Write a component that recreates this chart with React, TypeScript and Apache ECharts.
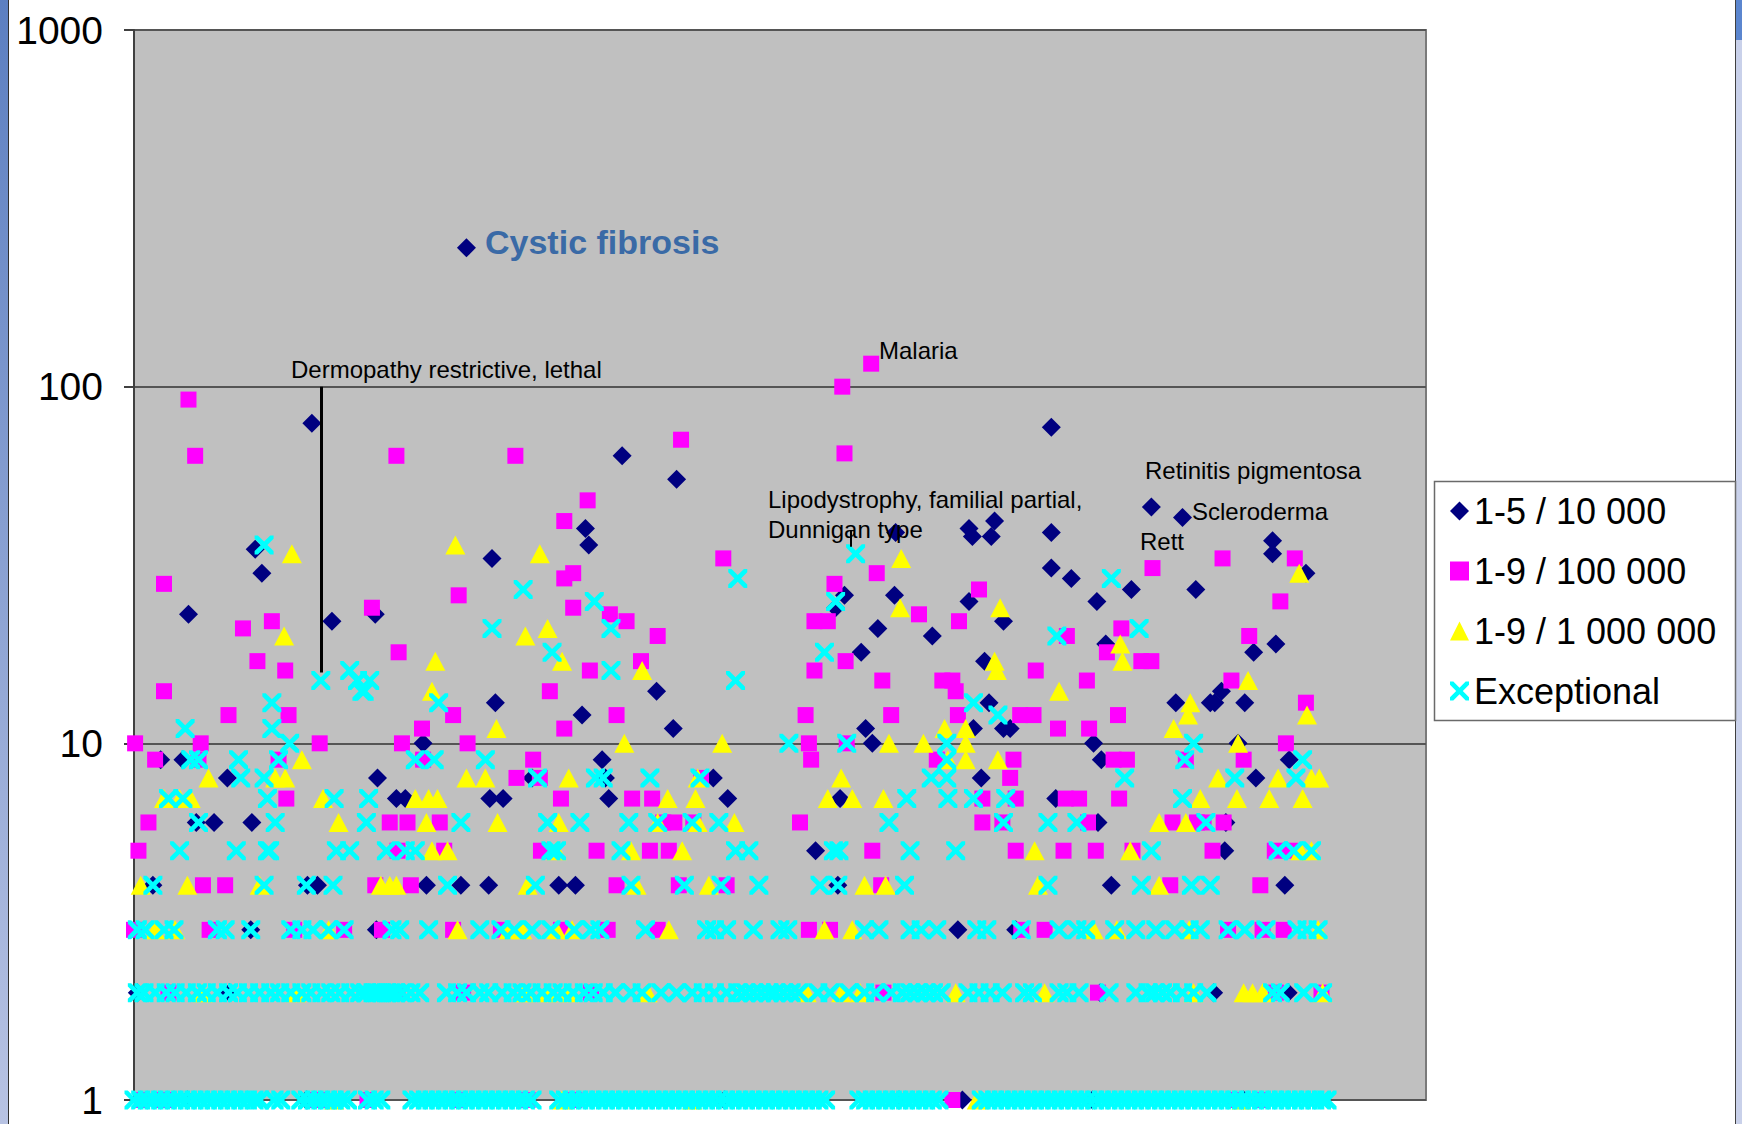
import React, { useEffect, useRef } from "react";
import * as echarts from "echarts";

// Horizontal axis: rank of the disease (no labels). Vertical axis: value on a log scale.
const X_MAX = 1162;
const Y_MIN = 1;
const Y_MAX = 1000;

const SERIES_NAMES = ["1-5 / 10 000", "1-9 / 100 000", "1-9 / 1 000 000", "Exceptional"];

// ---- 1-5 / 10 000 (navy diamonds) ----
const diamondUpper: [number, number][] = [
  [299, 245], [160, 79], [49, 23], [109, 35], [115, 30], [178, 22], [217, 23], [322, 33], [325, 13],
  [406, 40], [409, 36], [403, 12], [439, 64], [488, 55], [470, 14], [485, 11], [260, 10], [769, 13],
  [937, 13], [658, 11], [755, 11], [782, 11], [788, 11], [664, 10], [863, 10], [993, 10], [968, 13],
  [972, 13], [999, 13], [978, 14], [631, 24], [639, 26], [654, 18], [669, 21], [684, 26], [685, 39],
  [718, 20], [751, 40], [754, 38], [774, 42], [771, 38], [751, 25], [765, 17], [782, 22], [825, 77],
  [825, 39], [825, 31], [843, 29], [866, 25], [874, 19], [897, 27], [915, 46], [943, 43], [955, 27],
  [1024, 37], [1024, 34], [1054, 30], [1007, 18], [1027, 19],
];
const diamondRows: [number, number[]][] = [
  [9, [24, 44, 421, 870, 1039]],
  [8, [84, 219, 358, 424, 521, 762, 1009]],
  [7, [236, 244, 320, 332, 427, 534, 635, 829]],
  [6, [56, 72, 106, 867, 982]],
  [5, [613, 981]],
  [4, [17, 156, 165, 263, 294, 319, 382, 397, 633, 879, 1035]],
  [3, [105, 218, 741, 793]],
  [2, [3, 86, 869, 971, 1038]],
  [1, [48, 155, 531, 688, 745, 862, 998]],
];

// ---- 1-9 / 100 000 (magenta squares) ----
const squareUpper: [number, number][] = [
  [49, 92], [55, 64], [236, 64], [343, 64], [492, 71], [408, 48], [387, 42], [395, 30], [387, 29],
  [27, 28], [292, 26], [395, 24], [214, 24], [98, 21], [124, 22], [238, 18], [111, 17], [136, 16],
  [410, 16], [27, 14], [374, 14], [85, 12], [139, 12], [287, 12], [259, 11], [387, 11], [1, 10],
  [60, 10], [167, 10], [241, 10], [300, 10], [530, 33], [428, 23], [443, 22], [471, 20], [456, 17],
  [434, 12], [663, 116], [637, 100], [639, 65], [668, 30], [630, 28], [706, 23], [742, 22], [760, 27],
  [612, 22], [624, 22], [916, 31], [839, 20], [888, 21], [875, 18], [906, 17], [915, 17], [640, 17],
  [612, 16], [673, 15], [727, 15], [736, 15], [739, 14], [811, 16], [857, 15], [979, 33], [1044, 33],
  [1031, 25], [1003, 20], [987, 15], [1054, 13], [797, 12], [809, 12], [831, 11], [859, 11], [885, 12],
  [1036, 10], [604, 12], [681, 12], [741, 12], [607, 10], [641, 10],
];
const squareRows: [number, number[]][] = [
  [9, [19, 58, 130, 260, 359, 609, 722, 791, 881, 893, 946, 998]],
  [8, [344, 365, 510, 788]],
  [7, [137, 384, 448, 466, 763, 793, 838, 850, 886]],
  [6, [13, 230, 246, 275, 476, 486, 503, 599, 763, 781, 858, 934, 956, 962, 980]],
  [5, [4, 237, 279, 366, 416, 464, 481, 664, 793, 836, 865, 898, 970, 1026, 1040]],
  [4, [62, 82, 217, 249, 434, 490, 533, 672, 932, 1013]],
  [3, [0, 68, 144, 189, 223, 287, 330, 384, 426, 471, 607, 626, 798, 819, 984, 1015, 1034]],
  [2, [31, 237, 296, 411, 674, 867, 1027, 1068]],
  [1, [7, 24, 31, 165, 210, 292, 354, 396, 736, 990, 1013]],
];

// ---- 1-9 / 1 000 000 (yellow triangles) ----
const triangleUpper: [number, number][] = [
  [142, 34], [289, 36], [365, 34], [135, 20], [352, 20], [372, 21], [271, 17], [385, 17], [268, 14],
  [326, 11], [457, 16], [690, 33], [689, 24], [779, 24], [774, 17], [776, 16], [887, 19], [889, 17],
  [832, 14], [1002, 15], [950, 13], [948, 12], [935, 11], [1055, 12], [1048, 30], [993, 10], [729, 11],
  [748, 11],
];
const triangleRows: [number, number[]][] = [
  [10, [441, 529, 679, 710, 748]],
  [9, [151, 732, 748, 777]],
  [8, [67, 127, 136, 299, 316, 391, 507, 636, 975, 1029, 1059, 1066]],
  [7, [27, 41, 51, 170, 253, 265, 273, 480, 505, 624, 646, 674, 959, 992, 1021, 1051]],
  [6, [184, 263, 327, 382, 471, 507, 540, 922, 946]],
  [5, [268, 282, 380, 447, 493, 810, 896, 1049, 1059]],
  [4, [6, 48, 113, 222, 230, 236, 354, 452, 517, 657, 676, 813, 922]],
  [3, [19, 37, 175, 291, 337, 349, 380, 394, 481, 621, 646, 863, 884, 949, 1065]],
  [2, [62, 146, 351, 372, 391, 462, 605, 636, 653, 739, 819, 953, 998, 1006, 1015, 1069]],
  [1, [180, 385, 502, 758, 996]],
];

// ---- Exceptional (cyan crosses) ----
const crossUpper: [number, number][] = [
  [117, 36], [350, 27], [414, 25], [322, 21], [376, 18], [168, 15], [194, 16], [201, 15], [207, 14],
  [212, 15], [205, 14], [274, 13], [124, 13], [46, 11], [124, 11], [140, 10], [543, 29], [541, 15],
  [429, 21], [429, 16], [649, 34], [631, 25], [621, 18], [879, 29], [830, 20], [904, 21], [777, 12],
  [755, 13], [953, 10],
];
const crossRows: [number, number[]][] = [
  [10, [589, 641, 731]],
  [9, [51, 58, 94, 130, 253, 270, 316, 731, 945, 1051]],
  [8, [96, 117, 363, 415, 422, 464, 509, 717, 731, 891, 990, 1045]],
  [7, [31, 44, 120, 180, 211, 695, 732, 755, 784, 943]],
  [6, [58, 127, 209, 294, 372, 401, 445, 471, 502, 526, 679, 782, 822, 848, 964]],
  [5, [41, 92, 120, 122, 182, 194, 227, 244, 253, 375, 380, 438, 541, 553, 629, 634, 698, 739, 915, 1029, 1043, 1059]],
  [4, [17, 117, 155, 179, 282, 361, 447, 495, 528, 562, 617, 633, 693, 822, 906, 951, 968]],
  [3, [3, 10, 27, 36, 75, 82, 105, 141, 151, 161, 175, 189, 232, 239, 265, 311, 330, 342, 358, 375, 396, 411,
    419, 460, 515, 522, 533, 557, 581, 588, 657, 670, 698, 708, 722, 758, 767, 798, 832, 848, 856, 882, 901,
    919, 936, 949, 959, 984, 999, 1018, 1046, 1055, 1065]],
  [2, [3, 9, 19, 29, 37, 47, 57, 65, 75, 85, 93, 103, 113, 123, 131, 141, 151, 159, 169, 177, 185, 195, 203,
    209, 215, 219, 223, 227, 231, 235, 241, 249, 257, 281, 291, 299, 311, 319, 331, 341, 349, 357, 367, 377,
    385, 395, 405, 413, 422, 433, 447, 457, 474, 488, 502, 512, 522, 533, 543, 550, 557, 564, 571, 577, 584,
    591, 598, 615, 626, 643, 657, 667, 681, 691, 698, 705, 712, 719, 726, 750, 760, 770, 781, 801, 808, 832,
    839, 850, 877, 901, 912, 918, 925, 932, 943, 953, 965, 1024, 1031, 1052, 1069]],
  [1, [0, 6, 12, 18, 24, 30, 36, 42, 48, 54, 60, 66, 72, 78, 84, 90, 96, 102, 108, 113, 126, 132, 150, 156,
    162, 168, 174, 180, 186, 192, 210, 216, 222, 250, 256, 262, 268, 274, 280, 286, 292, 298, 304, 310, 316,
    322, 328, 334, 340, 346, 352, 358, 382, 388, 394, 400, 406, 412, 418, 424, 430, 436, 442, 448, 454, 460,
    466, 472, 478, 484, 490, 496, 502, 508, 514, 520, 526, 532, 538, 544, 550, 556, 562, 568, 574, 580, 586,
    592, 598, 604, 610, 616, 622, 652, 658, 664, 670, 676, 682, 688, 694, 700, 706, 712, 718, 724, 762, 768,
    774, 780, 786, 792, 798, 804, 810, 816, 822, 828, 834, 840, 846, 852, 858, 864, 870, 876, 882, 888, 894,
    900, 906, 912, 918, 924, 930, 936, 942, 948, 954, 960, 966, 972, 978, 984, 990, 996, 1002, 1008, 1014,
    1020, 1026, 1032, 1038, 1044, 1050, 1056, 1062, 1068, 1073]],
];

// Points to which the two leader lines run (Exceptional series)
const dermopathyPoint: [number, number] = [168, 15.8];
const lipodystrophyPoint: [number, number] = [645, 35.6];

const CROSS_PATH =
  "path://M0,0L3.5,0L10,6.5L16.5,0L20,0L20,3.5L13.5,10L20,16.5L20,20L16.5,20L10,13.5L3.5,20L0,20L0,16.5L6.5,10L0,3.5Z";

function build(upper: [number, number][], rows: [number, number[]][]): [number, number][] {
  const out: [number, number][] = upper.slice();
  rows.forEach(([v, xs]) => xs.forEach((x) => out.push([x, v])));
  return out;
}

const FONT = "'Liberation Sans', Arial, Helvetica, sans-serif";

export default function App() {
  const ref = useRef<HTMLDivElement>(null);
  useEffect(() => {
    if (!ref.current) return;
    const chart = echarts.init(ref.current, undefined, { renderer: "svg" });

    const annText = (text: string, x: number, y: number, extra: any = {}) => ({
      type: "text",
      x,
      y,
      z: 10,
      style: {
        text,
        fill: "#000",
        font: `24px ${FONT}`,
        fontSize: 24,
        fontFamily: FONT,
        align: "left",
        textAlign: "left",
        verticalAlign: "middle",
        textVerticalAlign: "middle",
        ...extra,
      },
    });

    const option: any = {
      animation: false,
      backgroundColor: "#ffffff",
      grid: {
        left: 134,
        top: 30,
        width: 1292,
        height: 1070,
        show: true,
        backgroundColor: "#C0C0C0",
        borderColor: "#7a7a7a",
        borderWidth: 2,
      },
      xAxis: {
        type: "value",
        min: 0,
        max: X_MAX,
        axisLine: { show: false },
        axisTick: { show: false },
        axisLabel: { show: false },
        splitLine: { show: false },
      },
      yAxis: {
        type: "log",
        logBase: 10,
        min: Y_MIN,
        max: Y_MAX,
        axisLine: { show: true, lineStyle: { color: "#404040", width: 2 } },
        axisTick: { show: true, length: 10, inside: false, lineStyle: { color: "#404040", width: 2 } },
        axisLabel: {
          show: true,
          fontSize: 39,
          fontFamily: FONT,
          color: "#000",
          margin: 31,
          showMinLabel: true,
          showMaxLabel: true,
          formatter: (v: number) => String(Math.round(v)),
        },
        splitLine: { show: true, lineStyle: { color: "#555555", width: 2 } },
        minorTick: { show: false },
      },
      legend: {
        orient: "vertical",
        left: 1450,
        top: 491,
        padding: 0,
        itemGap: 20,
        itemWidth: 19,
        itemHeight: 19,
        itemTextGap: 18,
        selectedMode: false,
        textStyle: { fontSize: 36, fontFamily: FONT, color: "#000", lineHeight: 40 },
        data: SERIES_NAMES,
      },
      series: [
        {
          name: SERIES_NAMES[0],
          type: "scatter",
          clip: false,
          symbol: "diamond",
          symbolSize: 19,
          itemStyle: { color: "#000080", opacity: 1 },
          data: build(diamondUpper, diamondRows),
        },
        {
          name: SERIES_NAMES[1],
          type: "scatter",
          clip: false,
          symbol: "rect",
          symbolSize: 16,
          itemStyle: { color: "#FF00FF", opacity: 1 },
          data: build(squareUpper, squareRows),
        },
        {
          name: SERIES_NAMES[2],
          type: "scatter",
          clip: false,
          symbol: "triangle",
          symbolSize: [20, 19],
          itemStyle: { color: "#FFFF00", opacity: 1 },
          data: build(triangleUpper, triangleRows),
        },
        {
          name: SERIES_NAMES[3],
          type: "scatter",
          clip: false,
          symbol: CROSS_PATH,
          symbolSize: 19,
          itemStyle: { color: "#00FFFF", opacity: 1 },
          data: build(crossUpper, crossRows),
          markLine: {
            silent: true,
            symbol: ["none", "none"],
            label: { show: false },
            lineStyle: { color: "#000", width: 3, type: "solid" },
            data: [
              [
                { coord: dermopathyPoint, lineStyle: { color: "#000", width: 3, type: "solid" } },
                { coord: [dermopathyPoint[0], 100] },
              ],
              [
                { coord: lipodystrophyPoint, lineStyle: { color: "#000", width: 2, type: "solid" } },
                { coord: [lipodystrophyPoint[0], 39.4] },
              ],
            ],
          },
        },
      ],
      graphic: [
        // slide edges
        {
          type: "rect",
          shape: { x: 0, y: 0, width: 8, height: 1124 },
          style: {
            fill: new echarts.graphic.LinearGradient(0, 0, 0, 1, [
              { offset: 0, color: "#5C7FC1" },
              { offset: 1, color: "#B8C3E3" },
            ]),
          },
          z: 0,
        },
        { type: "line", shape: { x1: 8.5, y1: 0, x2: 8.5, y2: 1124 }, style: { stroke: "#303030", lineWidth: 1 }, z: 0 },
        { type: "rect", shape: { x: 1736, y: 0, width: 6, height: 1124 }, style: { fill: "#C9D1EA" }, z: 0 },
        { type: "rect", shape: { x: 1736, y: 0, width: 6, height: 40 }, style: { fill: "#5B86CF" }, z: 0 },
        { type: "line", shape: { x1: 1735.5, y1: 0, x2: 1735.5, y2: 1124 }, style: { stroke: "#404040", lineWidth: 1 }, z: 0 },
        // legend box
        {
          type: "rect",
          shape: { x: 1434.5, y: 481.5, width: 301, height: 239 },
          style: { fill: "#ffffff", stroke: "#6a6a6a", lineWidth: 1.5 },
          z: 1,
        },
        // annotations
        annText("Cystic fibrosis", 485, 242, {
          fill: "#3A6AA6",
          fontWeight: "bold",
          fontSize: 34,
          font: `bold 34px ${FONT}`,
        }),
        annText("Dermopathy restrictive, lethal", 291, 369),
        annText("Malaria", 879, 350),
        annText("Lipodystrophy, familial partial,", 768, 499),
        annText("Dunnigan type", 768, 529),
        annText("Retinitis pigmentosa", 1145, 470),
        annText("Scleroderma", 1192, 511),
        annText("Rett", 1140, 541),
      ],
    };

    chart.setOption(option);
    return () => chart.dispose();
  }, []);

  return (
    <div
      ref={ref}
      style={{ position: "fixed", left: 0, top: 0, width: 1742, height: 1124, background: "#fff" }}
    />
  );
}
